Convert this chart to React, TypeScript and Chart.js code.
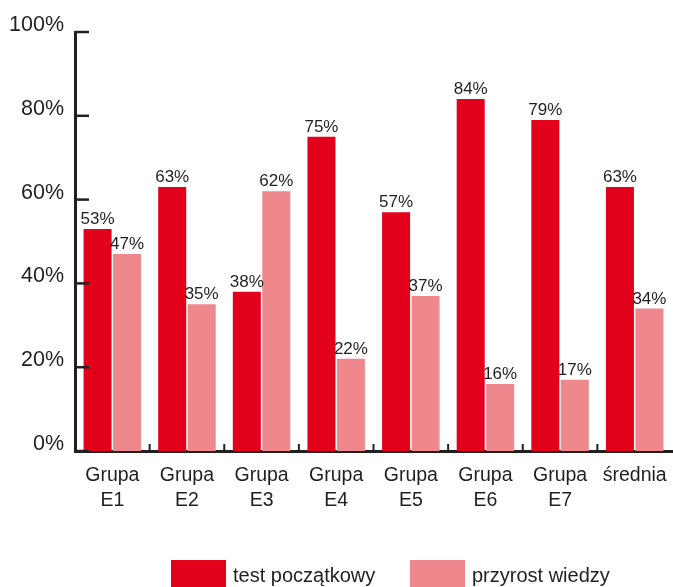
import React, { useEffect, useRef } from "react";
import { Chart, registerables } from "chart.js";

Chart.register(...registerables);

const categories: string[][] = [
  ["Grupa", "E1"],
  ["Grupa", "E2"],
  ["Grupa", "E3"],
  ["Grupa", "E4"],
  ["Grupa", "E5"],
  ["Grupa", "E6"],
  ["Grupa", "E7"],
  ["średnia"],
];
const testPoczatkowy: number[] = [53, 63, 38, 75, 57, 84, 79, 63];
const przyrostWiedzy: number[] = [47, 35, 62, 22, 37, 16, 17, 34];
const yTicks: number[] = [0, 20, 40, 60, 80, 100];
const seriesNames: string[] = ["test początkowy", "przyrost wiedzy"];

const RED = "#e2001a";
const PINK = "#ef888c";
const INK = "#231f20";
const FONT = "'Liberation Sans', Arial, sans-serif";

const decorPlugin = {
  id: "decor",
  afterDatasetsDraw(chart: any) {
    const ctx = chart.ctx as CanvasRenderingContext2D;
    const x = chart.scales.x;
    const y = chart.scales.y;
    const area = chart.chartArea;
    ctx.save();
    // inward y tick marks
    ctx.strokeStyle = INK;
    ctx.lineWidth = 2.5;
    y.ticks.forEach((t: any) => {
      const py = y.getPixelForValue(t.value);
      ctx.beginPath();
      ctx.moveTo(area.left, py);
      ctx.lineTo(area.left + 14, py);
      ctx.stroke();
    });
    // upward x tick marks at category boundaries
    ctx.lineWidth = 2;
    for (let i = 1; i < categories.length; i++) {
      const px = (x.getPixelForValue(i - 1) + x.getPixelForValue(i)) / 2;
      ctx.beginPath();
      ctx.moveTo(px, area.bottom + 1.5);
      ctx.lineTo(px, area.bottom - 7);
      ctx.stroke();
    }
    // value labels
    ctx.fillStyle = INK;
    ctx.font = `17px ${FONT}`;
    ctx.textAlign = "center";
    ctx.textBaseline = "alphabetic";
    chart.data.datasets.forEach((ds: any, di: number) => {
      const meta = chart.getDatasetMeta(di);
      meta.data.forEach((el: any, i: number) => {
        ctx.fillText(`${ds.data[i]}%`, el.x, el.y - 5);
      });
    });
    // legend
    const legendX = [171, 410];
    ctx.font = `20px ${FONT}`;
    ctx.textAlign = "left";
    chart.data.datasets.forEach((ds: any, di: number) => {
      ctx.fillStyle = ds.backgroundColor;
      ctx.fillRect(legendX[di], 560, 55, 27);
      ctx.fillStyle = INK;
      ctx.fillText(ds.label, legendX[di] + 62, 582);
    });
    ctx.restore();
  },
};

export default function App() {
  const canvasRef = useRef<HTMLCanvasElement | null>(null);

  useEffect(() => {
    if (!canvasRef.current) return;
    const chart = new Chart(canvasRef.current, {
      type: "bar",
      data: {
        labels: categories,
        datasets: [
          {
            label: seriesNames[0],
            data: testPoczatkowy,
            backgroundColor: RED,
            borderWidth: 0,
            categoryPercentage: 0.79,
            barPercentage: 0.95,
          },
          {
            label: seriesNames[1],
            data: przyrostWiedzy,
            backgroundColor: PINK,
            borderWidth: 0,
            categoryPercentage: 0.79,
            barPercentage: 0.95,
          },
        ],
      },
      options: {
        animation: false,
        responsive: false,
        maintainAspectRatio: false,
        layout: { padding: { left: 0, right: 1, top: 32, bottom: 0 } },
        plugins: {
          legend: { display: false },
          tooltip: { enabled: false },
        },
        scales: {
          x: {
            grid: { display: false, drawTicks: false },
            border: { display: true, color: INK, width: 3 },
            ticks: {
              color: INK,
              font: { family: FONT, size: 19.5, lineHeight: 1.24 },
              padding: 13,
              maxRotation: 0,
              autoSkip: false,
            },
            afterFit: (s: any) => {
              s.height = 136;
              s.paddingLeft = 0;
              s.paddingRight = 0;
            },
          },
          y: {
            min: 0,
            max: 100,
            afterBuildTicks: (s: any) => {
              s.ticks = yTicks.map((v) => ({ value: v }));
            },
            grid: { display: false, drawTicks: false },
            border: { display: true, color: INK, width: 3 },
            ticks: {
              color: INK,
              font: { family: FONT, size: 21.5 },
              padding: 11,
              labelOffset: -7,
              callback: (v: any) => `${v}%`,
            },
            afterFit: (s: any) => {
              s.width = 75;
            },
          },
        },
      },
      plugins: [decorPlugin],
    });
    return () => chart.destroy();
  }, []);

  return (
    <div style={{ position: "absolute", left: 0, top: 0, width: 673, height: 587, background: "#fff" }}>
      <canvas ref={canvasRef} width={673} height={587} style={{ width: 673, height: 587 }} />
    </div>
  );
}
